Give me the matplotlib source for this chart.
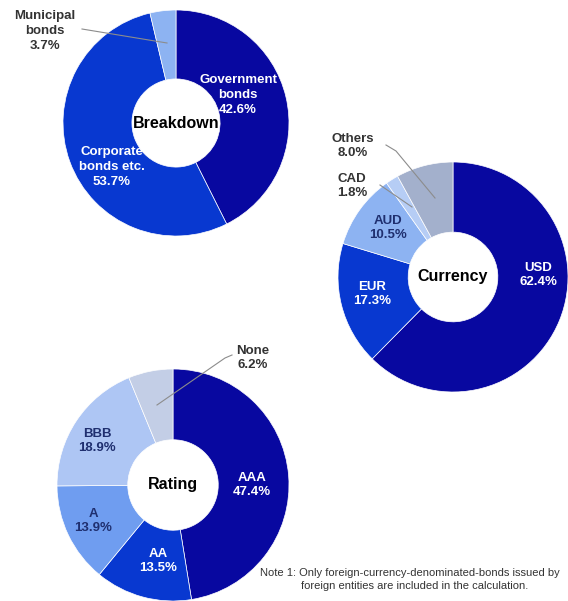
import matplotlib
matplotlib.use("Agg")
import matplotlib.pyplot as plt

plt.rcParams['font.family'] = ['Liberation Sans', 'DejaVu Sans']

W, H = 568, 601

# ---- data ----
breakdown_labels = ["Government\nbonds", "Corporate\nbonds etc.", "Municipal\nbonds"]
breakdown_values = [42.6, 53.7, 3.7]

currency_labels = ["USD", "EUR", "AUD", "CAD", "Others"]
currency_values = [62.4, 17.3, 10.5, 1.8, 8.0]

rating_labels = ["AAA", "AA", "A", "BBB", "None"]
rating_values = [47.4, 13.5, 13.9, 18.9, 6.2]

note_lines = ["Note 1: Only foreign-currency-denominated-bonds issued by",
              "foreign entities are included in the calculation."]

# ---- styling ----
NAVY = '#0808A0'
BLUE = '#0838D0'
LIGHT = '#8DB3F2'
breakdown_colors = [NAVY, BLUE, LIGHT]
currency_colors = [NAVY, BLUE, LIGHT, '#B6CDF5', '#A3B0CC']
rating_colors = [NAVY, BLUE, '#6F9DF0', '#AEC6F4', '#C3CEE6']

# layout in pixel units (x right, y down)
donuts = [
    dict(values=breakdown_values, labels=breakdown_labels, colors=breakdown_colors,
         center=(176, 123), radius=113, title="Breakdown",
         label_pos=[(238, 95), (112, 167), (45, 31)],
         label_col=['white', 'white', '#333333'],
         leaders=[None, None, [(82, 29), (167, 43)]]),
    dict(values=currency_values, labels=currency_labels, colors=currency_colors,
         center=(453, 277), radius=115, title="Currency",
         label_pos=[(538, 275), (372, 294), (388, 228), (352, 186), (353, 146)],
         label_col=['white', 'white', '#1F2F6F', '#333333', '#333333'],
         leaders=[None, None, None, [(380, 185), (412, 207)],
                  [(386, 145), (396, 151), (435, 198)]]),
    dict(values=rating_values, labels=rating_labels, colors=rating_colors,
         center=(173, 485), radius=116, title="Rating",
         label_pos=[(252, 485), (158, 561), (93, 521), (97, 441), (253, 358)],
         label_col=['white', 'white', '#1F2F6F', '#1F2F6F', '#333333'],
         leaders=[None, None, None, None, [(232, 355), (225, 358), (157, 405)]]),
]
HOLE = 0.39


def Y(y):
    return H - y


fig = plt.figure(figsize=(W / 100, H / 100), dpi=100)
ax = fig.add_axes([0, 0, 1, 1])

for d in donuts:
    cx, cy = d['center']
    r = d['radius']
    ax.pie(d['values'], colors=d['colors'], startangle=90, counterclock=False,
           center=(cx, Y(cy)), radius=r,
           wedgeprops=dict(width=r * (1 - HOLE), edgecolor='white', linewidth=0.5))
    ax.text(cx, Y(cy), d['title'], ha='center', va='center', fontsize=11.5,
            fontweight='bold', color='black')
    for lab, val, (lx, ly), col, lead in zip(d['labels'], d['values'], d['label_pos'],
                                             d['label_col'], d['leaders']):
        ax.text(lx, Y(ly), f"{lab}\n{val:.1f}%", ha='center', va='center',
                fontsize=9.5, fontweight='bold', color=col, linespacing=1.3)
        if lead is not None:
            ax.plot([p[0] for p in lead], [Y(p[1]) for p in lead],
                    color='#8C8C8C', lw=0.8)

ax.text(260, Y(573), note_lines[0], ha='left', va='center', fontsize=8, color='#333333')
ax.text(301, Y(586), note_lines[1], ha='left', va='center', fontsize=8, color='#333333')

ax.set_xlim(0, W)
ax.set_ylim(0, H)
ax.set_aspect('equal')
ax.axis('off')

fig.savefig('out.png', dpi=100)
